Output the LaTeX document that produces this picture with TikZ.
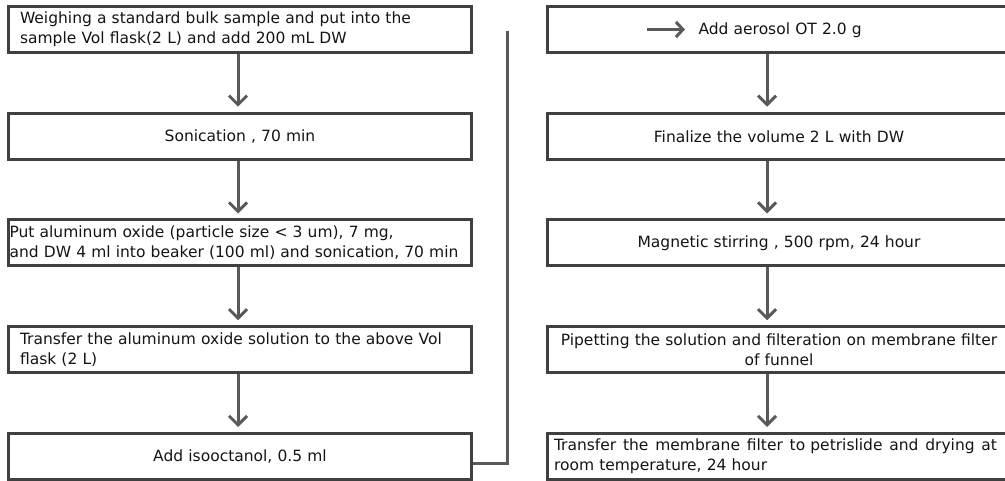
\documentclass[tikz,border=0pt]{standalone}
\usepackage{fontspec}
\setmainfont{DejaVu Sans}[WordSpace=1.75]
\usetikzlibrary{chains,positioning,arrows.meta}
\definecolor{boxgray}{RGB}{64,64,64}
\definecolor{arrowgray}{RGB}{89,89,89}
\definecolor{textblack}{RGB}{20,20,20}
\tikzset{
  box/.style={draw=boxgray,line width=3pt,minimum width=463pt,minimum height=46pt,
    inner xsep=11.5pt,inner ysep=2pt,text width=440pt,text=textblack,
    font=\fontsize{15.5}{20}\selectfont},
  flow/.style={draw=arrowgray,line width=3pt,shorten >=5pt,
    -{Straight Barb[length=9pt,width=18pt]}},
  link/.style={draw=arrowgray,line width=3pt}
}
\newcommand{\inarrow}{\tikz[baseline=-0.35em]\draw[draw=arrowgray,line width=3pt,
  -{Straight Barb[length=7pt,width=15pt]}] (0pt,0pt) -- (38pt,0pt);}
\begin{document}
\begin{tikzpicture}[x=1pt,y=-1pt,start chain=L going below,start chain=R going below,
  node distance=57.75pt]
    \useasboundingbox (0,0) rectangle (1005,481);
    \coordinate (lx) at (238,0);
    \coordinate (rx) at (767,0);
    \coordinate (top) at (507,31);
    % left column
    \node [box,on chain=L,align=left] (l1) at (240,29.5)
      {Weighing a standard bulk sample and put into the\\ sample Vol flask(2 L) and add 200 mL DW};
    \node [box,on chain=L,align=center] (l2) {Sonication , 70 min};
    \node [box,on chain=L,align=left,inner xsep=1pt,text width=461pt] (l3)
      {Put aluminum oxide (particle size < 3 um), 7 mg,\\ and DW 4 ml into beaker (100 ml) and sonication, 70 min};
    \node [box,on chain=L,align=left] (l4)
      {Transfer the aluminum oxide solution to the above Vol\\ flask (2 L)};
    \node [box,on chain=L,align=center] (l5) {Add isooctanol, 0.5 ml};
    % right column
    \node [box,on chain=R,align=left,inner xsep=98pt,text width=267pt] (r1) at (779,29.5)
      {\inarrow\hspace{12pt}Add aerosol OT 2.0 g};
    \node [box,on chain=R,align=center] (r2) {Finalize the volume 2 L with DW};
    \node [box,on chain=R,align=center] (r3) {Magnetic stirring , 500 rpm, 24 hour};
    \node [box,on chain=R,align=center,inner xsep=1pt,text width=461pt] (r4)
      {Pipetting the solution and filteration on membrane filter\\ of funnel};
    \node [box,on chain=R,align=left,inner xsep=6.5pt,text width=450pt] (r5)
      {\hbox to 443pt{Transfer\hfill the\hfill membrane\hfill filter\hfill to
        petrislide\hfill and\hfill drying\hfill at}\\ room temperature, 24 hour};
    % arrows
    \foreach \a/\b in {l1/l2,l2/l3,l3/l4,l4/l5} {
      \draw[flow] (\a.south -| lx) -- (\b.north -| lx);
    }
    \foreach \a/\b in {r1/r2,r2/r3,r3/r4,r4/r5} {
      \draw[flow] (\a.south -| rx) -- (\b.north -| rx);
    }
    \draw[link] ([yshift=-7pt]l5.east) -| (top);
\end{tikzpicture}
\end{document}
